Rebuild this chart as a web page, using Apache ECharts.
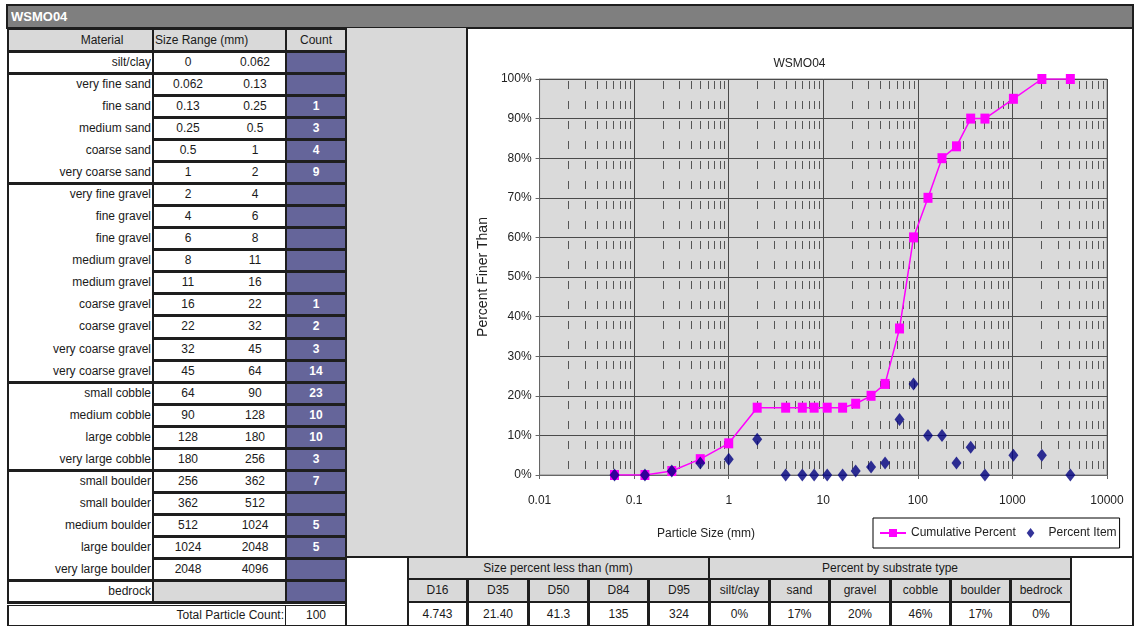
<!DOCTYPE html>
<html>
<head>
<meta charset="utf-8">
<script src="https://cdn.jsdelivr.net/npm/echarts@6.0.0/dist/echarts.min.js"></script>
<style>
  body { margin: 0; background: #fff; }
  #page { position: relative; width: 1135px; height: 626px; overflow: hidden; background: #fff;
          font-family: "Liberation Sans", Arial, sans-serif; font-size: 12px; color: #1a1a1a; }
  .c { position: absolute; box-sizing: border-box; white-space: nowrap; overflow: hidden; }
  #chart { z-index: 5; }
</style>
</head>
<body>
<div id="page">
  <div id="chart" class="c" style="left:468px;top:29px;width:663px;height:527px"></div>
</div>
<script>
// ---- data ----
var siteName = "WSMO04";
var materials = ["silt/clay", "very fine sand", "fine sand", "medium sand", "coarse sand", "very coarse sand",
  "very fine gravel", "fine gravel", "fine gravel", "medium gravel", "medium gravel", "coarse gravel",
  "coarse gravel", "very coarse gravel", "very coarse gravel", "small cobble", "medium cobble",
  "large cobble", "very large cobble", "small boulder", "small boulder", "medium boulder",
  "large boulder", "very large boulder", "bedrock"];
var sizeLo = ["0", "0.062", "0.13", "0.25", "0.5", "1", "2", "4", "6", "8", "11", "16", "22", "32", "45",
  "64", "90", "128", "180", "256", "362", "512", "1024", "2048", ""];
var sizeHi = ["0.062", "0.13", "0.25", "0.5", "1", "2", "4", "6", "8", "11", "16", "22", "32", "45", "64",
  "90", "128", "180", "256", "362", "512", "1024", "2048", "4096", ""];
var counts = ["", "", "1", "3", "4", "9", "", "", "", "", "", "1", "2", "3", "14", "23", "10", "10", "3",
  "7", "", "5", "5", "", ""];
var groupEnds = [0, 5, 14, 18, 23, 24]; // last row of each material group
var totalCount = "100";

var dLabels = ["D16", "D35", "D50", "D84", "D95"];
var dValues = ["4.743", "21.40", "41.3", "135", "324"];
var substrates = ["silt/clay", "sand", "gravel", "cobble", "boulder", "bedrock"];
var substratePct = ["0%", "17%", "20%", "46%", "17%", "0%"];

// chart series (particle size in mm, percent)
var sizes = [0.062, 0.13, 0.25, 0.5, 1, 2, 4, 6, 8, 11, 16, 22, 32, 45, 64, 90, 128, 180, 256, 362, 512,
  1024, 2048, 4096];
var cumulativePct = [0, 0, 1, 4, 8, 17, 17, 17, 17, 17, 17, 18, 20, 23, 37, 60, 70, 80, 83, 90, 90, 95,
  100, 100];
var itemPct = [0, 0, 1, 3, 4, 9, 0, 0, 0, 0, 0, 1, 2, 3, 14, 23, 10, 10, 3, 7, 0, 5, 5, 0];
var xTickLabels = ["0.01", "0.1", "1", "10", "100", "1000", "10000"];
var decades = [0.01, 0.1, 1, 10, 100, 1000];
var minorSteps = [2, 3, 4, 5, 6, 7, 8, 9];

// ---- spreadsheet part ----
var page = document.getElementById("page");
var LINE = "#1e1e1e", HEAD = "#d9d9d9", PURPLE = "#65659a";

function box(x, y, w, h, bg, border) {
  var d = document.createElement("div");
  d.className = "c";
  d.style.cssText = "left:" + x + "px;top:" + y + "px;width:" + w + "px;height:" + h + "px;background:" +
    (bg || "transparent") + ";" + (border || "");
  page.appendChild(d);
  return d;
}
function txt(x, y, w, h, s, align, extra) {
  var d = box(x, y, w, h, null, "line-height:" + h + "px;text-align:" + (align || "center") + ";" + (extra || ""));
  d.textContent = s;
  return d;
}
var B1 = "border:1px solid " + LINE + ";";
var B2 = "border:2px solid " + LINE + ";";

// title bar
box(6, 4, 1128, 25, "#7f7f7f", B2);
txt(11, 5, 120, 23, siteName, "left", "color:#fff;font-weight:bold;font-size:13px;");

// grey filler pane and chart frame
box(345, 28, 123, 530, "#d9d9d9", "");
box(466, 27, 668, 531, "#fff", B2);

// header row of the count table
box(7, 28, 147, 24, HEAD, B2);
txt(52, 29, 100, 22, "Material");
box(152, 28, 135, 24, HEAD, B2);
txt(155, 29, 130, 22, "Size Range (mm)", "left");
box(285, 28, 62, 24, HEAD, B2);
txt(286, 29, 60, 22, "Count");

var rowTop = 51, rowH = 22.04;
// material groups
var gStart = 0;
groupEnds.forEach(function (g) {
  box(7, rowTop + gStart * rowH, 147, (g - gStart + 1) * rowH + 1, "#fff", B2);
  gStart = g + 1;
});
materials.forEach(function (m, i) {
  var y = rowTop + i * rowH;
  txt(9, y, 142, rowH, m, "right");
  box(152, y, 135, rowH + 1, i === materials.length - 1 ? HEAD : "#fff", B2);
  txt(160, y, 56, rowH, sizeLo[i]);
  txt(226, y, 58, rowH, sizeHi[i]);
  box(285, y, 62, rowH + 1, PURPLE, B2);
  txt(286, y, 60, rowH, counts[i], "center", "color:#fff;font-weight:bold;");
});
// total row (double rule above)
var ty = rowTop + materials.length * rowH;
box(7, ty, 340, 2, LINE, "");
box(7, ty + 3, 280, 626 - ty - 3, "#fff", B1 + "border-left:2px solid " + LINE + ";");
txt(120, ty + 3, 164, 626 - ty - 3, "Total Particle Count:", "right");
box(285, ty + 3, 62, 626 - ty - 3, "#fff", B1);
txt(286, ty + 3, 60, 626 - ty - 3, totalCount);

// bottom statistics table
box(345, 556, 64, 71, "#fff", B2);
box(1070, 556, 64, 71, "#fff", B2);
box(407, 556, 303, 24, HEAD, B2);
txt(408, 557, 300, 22, "Size percent less than (mm)");
box(708, 556, 364, 24, HEAD, B2);
txt(709, 557, 362, 22, "Percent by substrate type");
var dCols = [407, 467, 528, 588, 648, 709];
var sCols = [709, 769, 829, 890, 950, 1010, 1071];
function statCols(cols, heads, vals) {
  heads.forEach(function (h, i) {
    var x = cols[i], w = cols[i + 1] - cols[i] + 1;
    box(x, 578, w, 25, HEAD, B2);
    txt(x, 579, w, 23, h);
    box(x, 601, w, 26, "#fff", B2);
    txt(x, 603, w, 23, vals[i]);
  });
}
statCols(dCols, dLabels, dValues);
statCols(sCols, substrates, substratePct);

// ---- chart ----
var FONT = "Liberation Sans, Arial, sans-serif";
var minorX = [];
decades.forEach(function (d) { minorSteps.forEach(function (m) { minorX.push([d * m, 0]); }); });

var myChart = echarts.init(document.getElementById("chart"));
var option = {
  animation: false,
  backgroundColor: "#fff",
  textStyle: { fontFamily: FONT },
  title: {
    text: siteName, left: "center", top: 24,
    textStyle: { fontSize: 12, fontWeight: "normal", color: "#222", fontFamily: FONT }
  },
  grid: { left: 62, right: 24, top: 50, bottom: 81, show: true, backgroundColor: "#dadada", borderColor: "#888", borderWidth: 1 },
  legend: {
    left: 405, top: 489,
    data: ["Cumulative Percent", { name: "Percent Item", icon: "path://M5 0L10 6.5L5 13L0 6.5Z" }],
    symbolKeepAspect: true,
    borderColor: "#000", borderWidth: 1, borderRadius: 0,
    padding: [9, 3, 9, 6], itemGap: 11, itemWidth: 26, itemHeight: 10,
    textStyle: { fontSize: 12, color: "#222", fontFamily: FONT }
  },
  xAxis: {
    type: "log", logBase: 10, min: 0.01, max: 10000,
    axisLine: { show: true, onZero: false, lineStyle: { color: "#666" } },
    axisTick: { show: true, length: 4, lineStyle: { color: "#666" } },
    axisLabel: {
      margin: 20, color: "#222", fontSize: 12,
      formatter: function (v) { return xTickLabels[Math.round(Math.log10(v)) + 2]; }
    },
    splitLine: { show: true, lineStyle: { color: "#4a4a4a", width: 1 } }
  },
  yAxis: {
    type: "value", min: 0, max: 100, interval: 10,
    name: "Percent Finer Than", nameLocation: "middle", nameGap: 39,
    nameTextStyle: { fontSize: 14, color: "#222", fontFamily: FONT },
    axisLine: { show: true, lineStyle: { color: "#666" } },
    axisTick: { show: true, length: 4, lineStyle: { color: "#666" } },
    axisLabel: { formatter: "{value}%", margin: 8, color: "#222", fontSize: 12 },
    splitLine: { show: true, lineStyle: { color: "#4a4a4a", width: 1 } }
  },
  graphic: [{
    type: "text", x: 238, y: 505,
    style: { text: "Particle Size (mm)", textAlign: "center", textVerticalAlign: "middle", font: "12px " + FONT, fill: "#222" }
  }],
  series: [
    {
      // minor dashed grid lines at 2..9 of each decade
      name: "minor", type: "custom", silent: true, z: 1,
      encode: { x: 0, y: 1 },
      data: minorX,
      renderItem: function (params, api) {
        var x = api.value(0);
        var top = api.coord([x, 100]), bot = api.coord([x, 0]);
        return {
          type: "line",
          shape: { x1: Math.round(top[0]) + 0.5, y1: top[1] + 2, x2: Math.round(bot[0]) + 0.5, y2: bot[1] },
          style: { stroke: "#555", lineWidth: 1, lineDash: [8, 12] }
        };
      }
    },
    {
      name: "Cumulative Percent", type: "line", z: 3,
      data: sizes.map(function (s, i) { return [s, cumulativePct[i]]; }),
      symbol: "rect", symbolSize: [9, 10],
      itemStyle: { color: "#ff00ff" },
      lineStyle: { color: "#ff00ff", width: 1.5 }
    },
    {
      name: "Percent Item", type: "scatter", z: 4,
      data: sizes.map(function (s, i) { return [s, itemPct[i]]; }),
      symbol: "diamond", symbolSize: [10, 13],
      itemStyle: { color: "#000080" }
    }
  ]
};
myChart.setOption(option);
</script>
</body>
</html>
